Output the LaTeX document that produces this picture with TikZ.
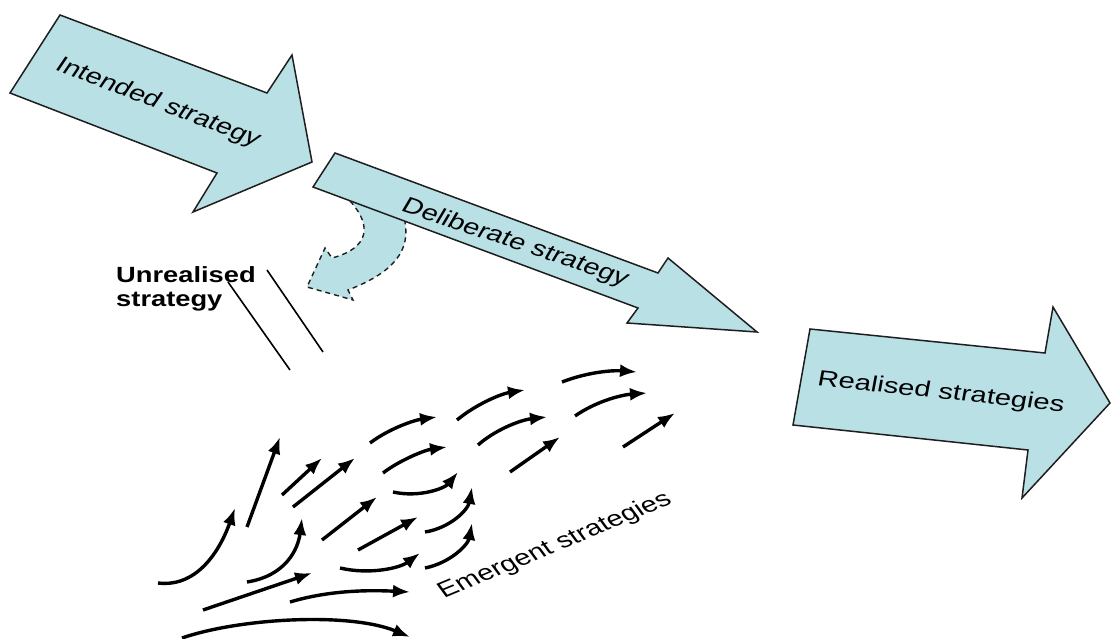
\documentclass[tikz,border=0pt]{standalone}
\usepackage{fontspec}
\setmainfont{Liberation Sans}
\usetikzlibrary{arrows.meta}
\definecolor{strategyblue}{RGB}{185,224,229}
\definecolor{strategyline}{RGB}{30,30,30}
\begin{document}
\begin{tikzpicture}[x=1pt,y=-1pt,
  blockarrow/.style={fill=strategyblue,draw=strategyline,line width=1.5pt,line join=miter},
  emarrow/.style={-{Latex[length=17pt,width=13pt]},line width=3.4pt},
  ptext/.style={inner sep=0pt,font=\fontsize{22}{26}\selectfont}]
  \useasboundingbox (0,0) rectangle (1111,639);
  \filldraw[fill=strategyblue,draw=strategyline,line width=1.4pt,dash pattern=on 5pt off 4pt]
    (350,201) .. controls (372,225) and (370,248) .. (332,258) -- (325,248) -- (307,287)
    -- (353,300) -- (348,290) .. controls (395,272) and (410,250) .. (405,222);
  \draw[blockarrow] (60,15)--(267,93)--(292,55)--(312,162)--(193,212)--(217,173)--(10,93)--cycle;
  \draw[blockarrow] (335,153)--(658,273)--(668,258)--(757,332)--(627,323)--(638,308)--(313,187)--cycle;
  \draw[blockarrow] (810,329)--(1045,353)--(1053,307)--(1110,403)--(1022,498)--(1028,450)--(793,425)--cycle;
  \node[ptext,xscale=1.33,rotate=-27] (intended) at (158,103) {Intended strategy};
  \node[ptext,xscale=1.33,rotate=-24] (deliberate) at (515,243) {Deliberate strategy};
  \node[ptext,xscale=1.33,rotate=-8] (realised) at (941,393) {Realised strategies};
  \node[ptext,xscale=1.33,rotate=29] (emergent) at (555,546) {Emergent strategies};
  \node[ptext,font=\fontsize{22}{24}\selectfont\bfseries,xscale=1.24,align=left,anchor=north west] (unrealised) at (116,266) {Unrealised\\strategy};
  \draw[line width=1.6pt] (228,282)--(290,370);
  \draw[line width=1.6pt] (267,270)--(323,352);
  \foreach \xa/\ya/\xb/\yb in {247/527/280/437,282/495/322/458,293/507/355/458,322/540/377/497,
    358/550/418/517,203/610/312/573,510/472/560/437,623/447/675/413}{
    \draw[emarrow] (\xa,\ya) -- (\xb,\yb);}
  \foreach \xa/\ya/\xb/\yb/\xc/\yc/\xd/\yd in {158/583/200/588/222/545/235/508,
    247/582/285/576/298/550/302/518,340/568/370/575/400/568/420/553,
    290/602/330/590/370/590/410/592,182/638/240/618/350/612/410/637,
    370/443/390/428/415/420/437/417,383/473/400/460/425/450/447/447,
    393/492/420/498/445/488/458/472,457/420/475/405/500/394/525/390,
    562/382/585/373/610/370/637/372,478/445/495/430/520/420/547/417,
    575/416/595/402/620/395/647/393,425/532/450/528/468/510/472/487,
    425/568/450/563/468/545/472/523}{
    \draw[emarrow] (\xa,\ya) .. controls (\xb,\yb) and (\xc,\yc) .. (\xd,\yd);}
\end{tikzpicture}
\end{document}
